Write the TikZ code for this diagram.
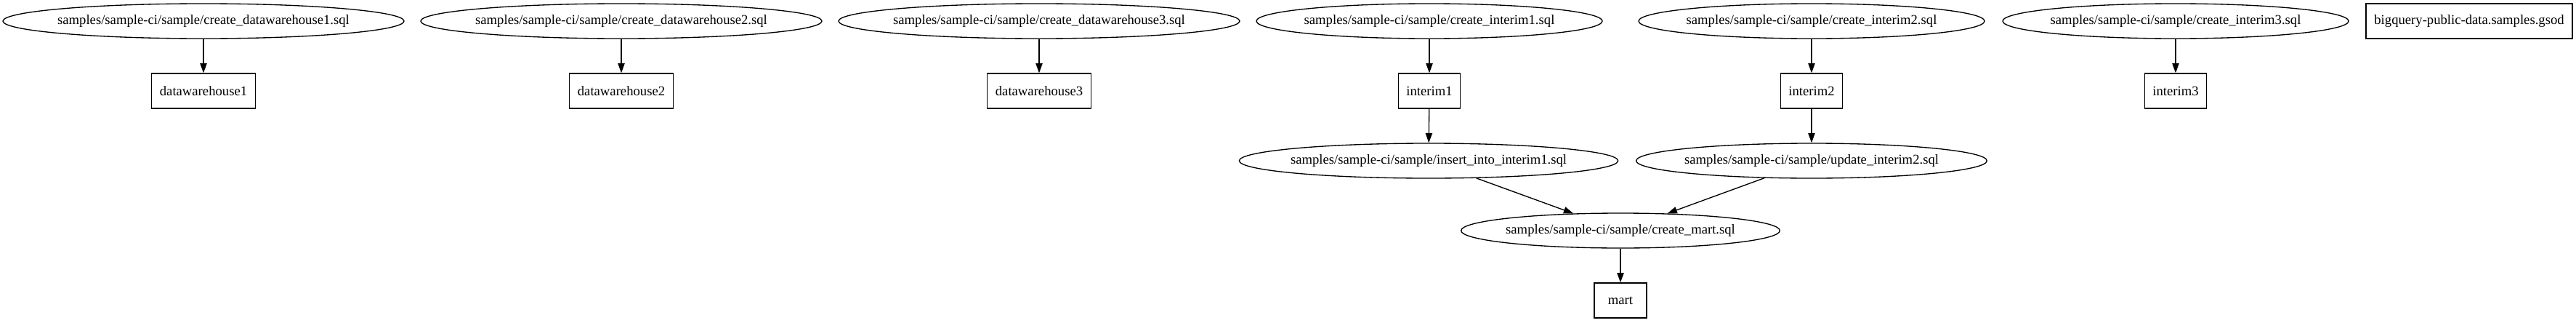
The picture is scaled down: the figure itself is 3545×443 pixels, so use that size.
\documentclass[tikz,border=0pt]{standalone}
\usepackage{fontspec}
\setmainfont{Liberation Serif}
\usepackage{tikz}
\usetikzlibrary{arrows.meta,shapes.geometric}

\begin{document}
\begin{tikzpicture}[x=0.75pt,y=-0.75pt,>={Triangle[length=10pt,width=7pt]},line width=1pt,
  sqlfile/.style={draw,ellipse,inner ysep=0pt,inner xsep=-30pt,minimum height=36pt,font=\fontsize{14pt}{17pt}\selectfont},
  tblbox/.style={draw,rectangle,inner sep=0pt,minimum height=36pt,font=\fontsize{14pt}{17pt}\selectfont}]
  \useasboundingbox (0,0) rectangle (3545,443);
  % sql files, top rank
  \node[sqlfile,minimum width=414pt] (cdw1) at (280,29){samples/sample-ci/sample/create\_datawarehouse1.sql};
  \node[sqlfile,minimum width=414pt] (cdw2) at (855,29){samples/sample-ci/sample/create\_datawarehouse2.sql};
  \node[sqlfile,minimum width=414pt] (cdw3) at (1430,29){samples/sample-ci/sample/create\_datawarehouse3.sql};
  \node[sqlfile,minimum width=357pt] (cint1) at (1967,29){samples/sample-ci/sample/create\_interim1.sql};
  \node[sqlfile,minimum width=357pt] (cint2) at (2493,29){samples/sample-ci/sample/create\_interim2.sql};
  \node[sqlfile,minimum width=357pt] (cint3) at (2994,29){samples/sample-ci/sample/create\_interim3.sql};
  \node[tblbox,minimum width=213pt] (gsod) at (3398,29){bigquery-public-data.samples.gsod};
  % tables
  \node[tblbox,minimum width=107pt] (dw1) at (280,125){datawarehouse1};
  \node[tblbox,minimum width=107pt] (dw2) at (855,125){datawarehouse2};
  \node[tblbox,minimum width=107pt] (dw3) at (1430,125){datawarehouse3};
  \node[tblbox,minimum width=64pt] (int1) at (1967,125){interim1};
  \node[tblbox,minimum width=64pt] (int2) at (2493,125){interim2};
  \node[tblbox,minimum width=64pt] (int3) at (2994,125){interim3};
  % second pass
  \node[sqlfile,minimum width=391pt] (insint1) at (1966,221){samples/sample-ci/sample/insert\_into\_interim1.sql};
  \node[sqlfile,minimum width=362pt] (updint2) at (2493,221){samples/sample-ci/sample/update\_interim2.sql};
  \node[sqlfile,minimum width=329pt] (cmart) at (2230,317){samples/sample-ci/sample/create\_mart.sql};
  \node[tblbox,minimum width=54pt] (mart) at (2230,413){mart};
  \draw[->] (cdw1)--(dw1); \draw[->] (cdw2)--(dw2); \draw[->] (cdw3)--(dw3);
  \draw[->] (cint1)--(int1); \draw[->] (cint2)--(int2); \draw[->] (cint3)--(int3);
  \draw[->] (int1)--(insint1); \draw[->] (int2)--(updint2);
  \draw[->] (insint1)--(cmart); \draw[->] (updint2)--(cmart);
  \draw[->] (cmart)--(mart);
\end{tikzpicture}
\end{document}
